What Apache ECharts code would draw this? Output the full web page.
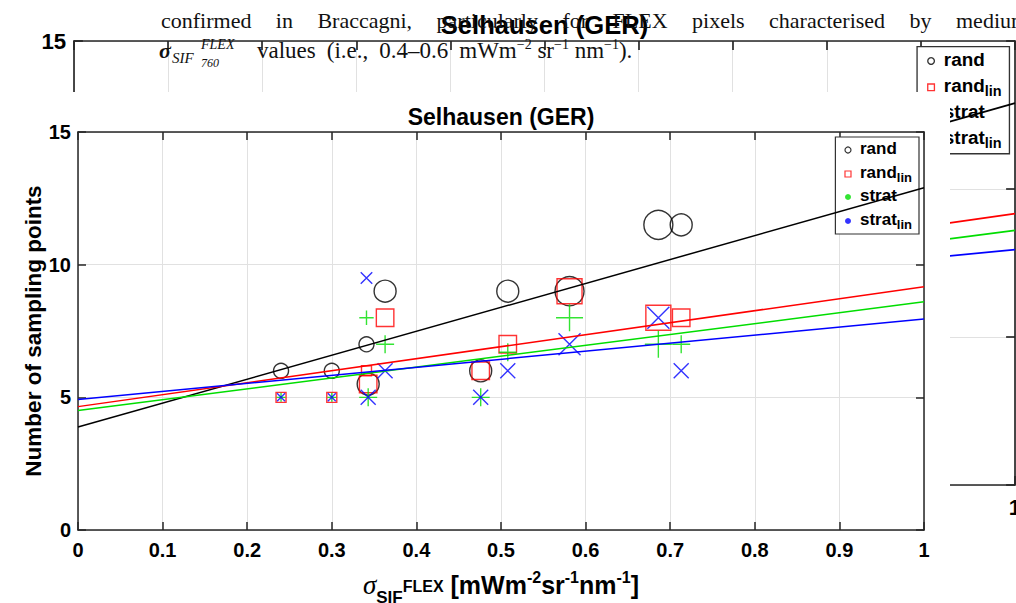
<!DOCTYPE html>
<html>
<head>
<meta charset="utf-8">
<script src="https://cdn.jsdelivr.net/npm/echarts@6/dist/echarts.min.js"></script>
<style>
  html, body { margin: 0; padding: 0; background: #fff; }
  #page { position: relative; width: 1016px; height: 603px; overflow: hidden; background: #fff; }
  #back { position: absolute; left: 0; top: 0; width: 1016px; height: 603px; }
  #front { position: absolute; left: 0; top: 92px; width: 950px; height: 511px; background: #fff; }
</style>
</head>
<body>
<div id="page"><div id="back"></div><div id="front"></div></div>
<script>
// σ_SIF^FLEX of each pixel class [mWm-2 sr-1 nm-1]
const sigma    = [0.24, 0.30, 0.341, 0.343, 0.363, 0.476, 0.508, 0.581, 0.686, 0.713];
// number of sampling points required by each strategy
const rand     = [6, 6, 7, 5.5, 9, 6, 9, 9, 11.5, 11.5];
const randLin  = [5, 5, 6, 5.5, 8, 6, 7, 9, 8, 8];
const strat    = [5, 5, 8, 5, 7, 5, 6.7, 8, 7, 7];
const stratLin = [5, 5, 9.5, 5, 6, 5, 6, 7, 8, 6];
// marker weight (number of coinciding runs)
const randW     = [1, 1, 1, 2, 2, 2, 2, 3, 3, 2];
const randLinW  = [1, 1, 1, 2, 2, 2, 2, 3, 3, 2];
const stratW    = [1, 1, 1.6, 2, 2, 2, 2, 3, 3, 2];
const stratLinW = [1, 1, 1.5, 2, 2, 2, 2, 3, 3, 2];
// linear fits, evaluated at the ends of the σ range
const fitX        = [0, 1];
const fitRand     = [3.88, 12.9];
const fitRandLin  = [4.65, 9.17];
const fitStrat    = [4.5, 8.6];
const fitStratLin = [4.92, 7.95];
// axis ticks
const xTickLabels = ['0', '0.1', '0.2', '0.3', '0.4', '0.5', '0.6', '0.7', '0.8', '0.9', '1'];
const yTickLabels = ['0', '5', '10', '15'];
const seriesNames = ['rand', 'rand_lin', 'strat', 'strat_lin'];

const SANS = '"Liberation Sans", Arial, Helvetica, sans-serif';
const SERIF = '"Liberation Serif", "Times New Roman", serif';
const AX = '#262626';
const GRID = '#e1e1e1';
const C = { rand: '#000000', rand_lin: '#ff0000', strat: '#00dd00', strat_lin: '#0000ff' };

const PLUS = 'path://M0,10L20,10M10,0L10,20';
const CROSS = 'path://M0,0L20,20M20,0L0,20';

function makeOption(W, L) {
  const k = L.k;
  const plotW = W - L.left - L.right;
  const pts = (ys, ws) => sigma.map((x, i) => [x, ys[i], ws[i]]);
  const fit = ys => fitX.map((x, i) => [x, ys[i]]);
  const scatter = (name, ys, ws, symbol, sizeFn) => ({
    type: 'scatter', name, symbol, data: pts(ys, ws),
    symbolSize: v => sizeFn(v[2]) * k,
    itemStyle: { color: 'transparent', borderColor: C[name], borderWidth: 1.4 * k },
    z: 3, silent: true
  });
  const line = (name, ys) => ({
    type: 'line', name: name + ' fit', data: fit(ys), symbol: 'none',
    lineStyle: { color: C[name], width: 1.5 * k }, z: 4, silent: true
  });
  const axisLine = { onZero: false, lineStyle: { color: AX, width: 1.5 * k } };
  const axisTick = { inside: true, length: 8 * k, lineStyle: { color: AX, width: 1.5 * k } };
  const label = {
    fontFamily: SANS, fontWeight: 'bold', fontSize: 20 * k, color: '#000'
  };
  const base = { type: 'value', axisLine, axisTick };
  const xBase = Object.assign({}, base, { min: 0, max: 1, interval: 0.1 });
  const yBase = Object.assign({}, base, { min: 0, max: 15, interval: 5 });
  const bold = (size, extra) => Object.assign({
    fontFamily: SANS, fontWeight: 'bold', fontSize: size * k, lineHeight: size * k,
    verticalAlign: 'middle', color: '#000'
  }, extra || {});

  return {
    animation: false,
    title: {
      text: 'Selhausen (GER)', left: L.left + plotW / 2, top: L.top - 26.5 * k,
      textAlign: 'center', padding: 0,
      textStyle: { fontFamily: SANS, fontWeight: 'bold', fontSize: 23 * k, color: '#000' }
    },
    grid: { left: L.left, right: L.right, top: L.top, bottom: L.bottom, containLabel: false, outerBoundsMode: 'none' },
    xAxis: [
      Object.assign({}, xBase, {
        position: 'bottom',
        axisLabel: Object.assign({}, label, {
          margin: 10 * k, showMinLabel: true, showMaxLabel: true, hideOverlap: false,
          formatter: v => xTickLabels[Math.round(v * 10)]
        }),
        splitLine: { show: true, lineStyle: { color: GRID, width: 1 } },
        name: '{sig|σ}{sub|SIF}{flex|FLEX}{m| [mWm}{sup|-2}{m|sr}{sup|-1}{m|nm}{sup|-1}{m|]}',
        nameLocation: 'middle', nameGap: 30 * k,
        nameTextStyle: {
          rich: {
            sig: { fontFamily: SERIF, fontStyle: 'italic', fontSize: 27 * k, lineHeight: 25 * k, verticalAlign: 'middle', color: '#000' },
            sub: bold(17, { padding: [24 * k, 0, 0, 0] }),
            flex: bold(16, { padding: [2 * k, 0, 0, 0] }),
            m: bold(25),
            sup: bold(16, { padding: [0, 0, 16 * k, 0] })
          }
        }
      }),
      Object.assign({}, xBase, { position: 'top', axisLabel: { show: false }, splitLine: { show: false } })
    ],
    yAxis: [
      Object.assign({}, yBase, {
        position: 'left',
        axisLabel: Object.assign({}, label, {
          margin: 7 * k, showMinLabel: true, showMaxLabel: true,
          formatter: v => yTickLabels[Math.round(v / 5)]
        }),
        splitLine: { show: true, lineStyle: { color: GRID, width: 1 } },
        name: 'Number of sampling points', nameLocation: 'middle', nameGap: 33 * k,
        nameMoveOverlap: false,
        nameTextStyle: { fontFamily: SANS, fontWeight: 'bold', fontSize: 22.5 * k, color: '#000' }
      }),
      Object.assign({}, yBase, { position: 'right', axisLabel: { show: false }, splitLine: { show: false } })
    ],
    legend: {
      orient: 'vertical', right: L.right + 5 * k, top: L.top + 5 * k,
      backgroundColor: '#fff', borderColor: '#333', borderWidth: 1.2 * k,
      padding: [3 * k, 7 * k, 3 * k, 9 * k], itemGap: 3 * k,
      itemWidth: 6 * k, itemHeight: 6 * k, selectedMode: false,
      data: [
        { name: 'rand', icon: 'circle', itemStyle: { color: '#fff', borderColor: C.rand, borderWidth: 1.2 * k } },
        { name: 'rand_lin', icon: 'rect', itemStyle: { color: '#fff', borderColor: C.rand_lin, borderWidth: 1.2 * k } },
        { name: 'strat', icon: 'circle', itemStyle: { color: C.strat, borderWidth: 0 } },
        { name: 'strat_lin', icon: 'circle', itemStyle: { color: C.strat_lin, borderWidth: 0 } }
      ],
      formatter: n => n.endsWith('_lin') ? '{n|' + n.slice(0, -4) + '}{s|lin}' : '{n|' + n + '}',
      textStyle: {
        rich: {
          n: { fontFamily: SANS, fontWeight: 'bold', fontSize: 17 * k, lineHeight: 20 * k, verticalAlign: 'top', padding: [0, 0, 0, 4 * k], color: '#000' },
          s: { fontFamily: SANS, fontWeight: 'bold', fontSize: 13 * k, lineHeight: 13 * k, verticalAlign: 'bottom', padding: [11 * k, 0, 0, 0], color: '#000' }
        }
      }
    },
    series: [
      scatter(seriesNames[0], rand, randW, 'circle', w => 8 + 7 * w),
      scatter(seriesNames[1], randLin, randLinW, 'rect', w => 2.5 + 7.5 * w),
      scatter(seriesNames[2], strat, stratW, PLUS, w => 9 * w),
      scatter(seriesNames[3], stratLin, stratLinW, CROSS, w => 1 + 7 * w),
      line(seriesNames[0], fitRand),
      line(seriesNames[1], fitRandLin),
      line(seriesNames[2], fitStrat),
      line(seriesNames[3], fitStratLin)
    ]
  };
}

const measureCtx = document.createElement('canvas').getContext('2d');
function textWidth(s, font) { measureCtx.font = font; return measureCtx.measureText(s).width; }

// Lay out a justified line of words so that the last word starts at lastX.
function justify(words, x0, lastX, font) {
  const w = words.map(s => textWidth(s, font));
  const inner = w.slice(0, -1).reduce((a, b) => a + b, 0);
  const gap = (lastX - x0 - inner) / (words.length - 1);
  let x = x0;
  return words.map((s, i) => { const r = { s, x }; x += w[i] + gap; return r; });
}

// Lay out words one after another with a fixed gap.
function flow(words, x0, gap, font) {
  let x = x0;
  return words.map(s => { const r = { s, x }; x += textWidth(s, font) + gap; return r; });
}

const BODY_FONT = '22px "Liberation Serif"';
const LINE2_FONT = '23px "Liberation Serif"';
const INK = '#111';
const bodyWord = (s, x, y, font) => ({
  type: 'text', x, y, z: 100, silent: true,
  style: { text: s, font: font || BODY_FONT, fill: INK, verticalAlign: 'middle' }
});
const line1 = ['confirmed', 'in', 'Braccagni,', 'particularly', 'for', 'FLEX', 'pixels', 'characterised', 'by', 'medium'];
const line2 = ['values', '(i.e.,', '0.4–0.6'];
const line2Pos = flow(line2, 257, 11, LINE2_FONT);
const unitX = line2Pos[2].x + textWidth(line2[2], LINE2_FONT) + 11;

const bodyText = justify(line1, 161, 956, BODY_FONT).map(o => bodyWord(o.s, o.x, 20))
  .concat([
    bodyWord('σ', 159, 50, 'italic bold 22px "Liberation Serif"'),
    bodyWord('SIF', 172, 58, 'italic 15px "Liberation Serif"'),
    bodyWord('FLEX', 201, 44, 'italic 14px "Liberation Serif"'),
    bodyWord('760', 201, 63, 'italic 12px "Liberation Serif"')
  ])
  .concat(line2Pos.map(o => bodyWord(o.s, o.x, 50, LINE2_FONT)))
  .concat([{
    type: 'text', x: unitX, y: 50, z: 100, silent: true,
    style: {
      text: 'mWm{sup|−2} sr{sup|−1} nm{sup|−1}).',
      font: LINE2_FONT, fill: INK, verticalAlign: 'middle',
      rich: { sup: { fontFamily: 'Liberation Serif', fontSize: 14, lineHeight: 14, padding: [0, 0, 12, 0], verticalAlign: 'middle', fill: INK } }
    }
  }]);

const back = echarts.init(document.getElementById('back'), null, { renderer: 'svg', width: 1016, height: 603 });
const backOpt = makeOption(1016, { k: 941 / 846, left: 74, right: 1, top: 41, bottom: 118 });
backOpt.graphic = bodyText;
back.setOption(backOpt);

const front = echarts.init(document.getElementById('front'), null, { renderer: 'svg', width: 950, height: 511 });
front.setOption(makeOption(950, { k: 1, left: 78, right: 26, top: 40, bottom: 73 }));
</script>
</body>
</html>
